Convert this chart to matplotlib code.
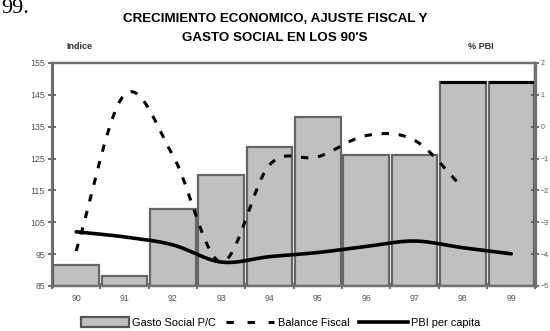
import numpy as np
import matplotlib
matplotlib.use("Agg")
import matplotlib.pyplot as plt
from matplotlib.patches import Patch
from matplotlib.lines import Line2D

plt.rcParams['font.family'] = ['Liberation Sans', 'DejaVu Sans']

years = ['90', '91', '92', '93', '94', '95', '96', '97', '98', '99']
gasto_social = [91.5, 88.0, 109.0, 119.7, 128.6, 138.0, 126.2, 126.2, 149.0, 149.0]
balance_fiscal = [-3.9, 1.0, -0.9, -4.25, -1.2, -0.95, -0.28, -0.43, -1.92]
pbi_per_capita = [102.0, 100.4, 97.9, 92.5, 94.2, 95.5, 97.4, 99.1, 97.0, 95.1]


def smooth(x, y, n=24):
    # Catmull-Rom curve through the points, like a spreadsheet "smoothed line"
    x = np.asarray(x, float)
    y = np.asarray(y, float)
    px = np.concatenate([[2 * x[0] - x[1]], x, [2 * x[-1] - x[-2]]])
    py = np.concatenate([[2 * y[0] - y[1]], y, [2 * y[-1] - y[-2]]])
    xs, ys = [], []
    t = np.linspace(0, 1, n)
    for i in range(1, len(px) - 2):
        for p, out in ((px, xs), (py, ys)):
            p0, p1, p2, p3 = p[i - 1], p[i], p[i + 1], p[i + 2]
            out.extend(0.5 * (2 * p1 + (-p0 + p2) * t
                              + (2 * p0 - 5 * p1 + 4 * p2 - p3) * t ** 2
                              + (-p0 + 3 * p1 - 3 * p2 + p3) * t ** 3))
    return np.array(xs), np.array(ys)


fig = plt.figure(figsize=(5.5, 3.31), dpi=100)
ax = fig.add_axes([0.0945, 0.136, 0.879, 0.674])
x = np.arange(len(years))

bars = ax.bar(x, [v - 85 for v in gasto_social], bottom=85, width=0.94,
              color='#c0c0c0', edgecolor='#666666', linewidth=1.6, zorder=2)
# last two bars carry a black top edge
for i in (8, 9):
    ax.hlines(gasto_social[i], x[i] - 0.47, x[i] + 0.47, color='black',
              linewidth=2.2, zorder=3)

sx, sy = smooth(x, pbi_per_capita)
ax.plot(sx, sy, color='black', linewidth=2.6, solid_capstyle='round', zorder=4)

ax.set_xlim(-0.5, len(years) - 0.5)
ax.set_ylim(85, 155)
ax.set_yticks(np.arange(85, 156, 10))
ax.set_xticks(x)
ax.set_xticklabels(years)
ax.set_xticks(np.arange(-0.5, len(years)), minor=True)
ax.tick_params(axis='x', which='major', length=0, labelsize=6.3,
               labelcolor='#555555', pad=6)
ax.tick_params(axis='x', which='minor', direction='inout', length=5,
               width=1.2, color='#555555')
ax.tick_params(axis='y', direction='inout', length=6, width=1.2,
               color='#555555', labelsize=6.3, labelcolor='#555555', pad=2)

ax2 = ax.twinx()
bx, by = smooth(x[:len(balance_fiscal)], balance_fiscal)
ax2.plot(bx, by, color='black', linewidth=2.2, dashes=(2.4, 3.2), zorder=5)
ax2.set_ylim(-5, 2)
ax2.set_yticks(np.arange(-5, 3, 1))
ax2.tick_params(axis='y', direction='inout', length=6, width=1.2,
                color='#555555', labelsize=5, labelcolor='#555555', pad=0.5)

for a in (ax, ax2):
    for side in ('left', 'right', 'top', 'bottom'):
        a.spines[side].set_color('#707070')
        a.spines[side].set_linewidth(1.6)
ax.spines['left'].set_color('#555555')
ax.spines['left'].set_linewidth(2)
ax2.spines['right'].set_linewidth(2.4)

fig.text(0.5, 0.943, "CRECIMIENTO ECONOMICO, AJUSTE FISCAL Y",
         ha='center', va='center', fontsize=9.6, fontweight='bold')
fig.text(0.5, 0.885, "GASTO SOCIAL EN LOS 90'S",
         ha='center', va='center', fontsize=9.6, fontweight='bold')
fig.text(0.144, 0.86, "Indice", ha='center', va='center', fontsize=6.5,
         fontweight='bold', color='#333333')
fig.text(0.875, 0.86, "% PBI", ha='center', va='center', fontsize=6.5,
         fontweight='bold', color='#333333')
fig.text(0.002, 0.962, "99.", ha='left', va='baseline', fontsize=16,
         family='Liberation Serif')

handles = [
    Patch(facecolor='#c0c0c0', edgecolor='#555555', linewidth=1.6),
    Line2D([], [], color='black', linewidth=2.2, dashes=(2.4, 4.5)),
    Line2D([], [], color='black', linewidth=2.6),
]
fig.legend(handles, ['Gasto Social P/C', 'Balance Fiscal', 'PBI per capita'],
           loc='center', bbox_to_anchor=(0.51, 0.025), ncol=3, frameon=False,
           fontsize=7.9, handlelength=4.4, handleheight=1.0, handletextpad=0.3,
           columnspacing=0.9, borderaxespad=0)

fig.savefig('out.png', dpi=100)
